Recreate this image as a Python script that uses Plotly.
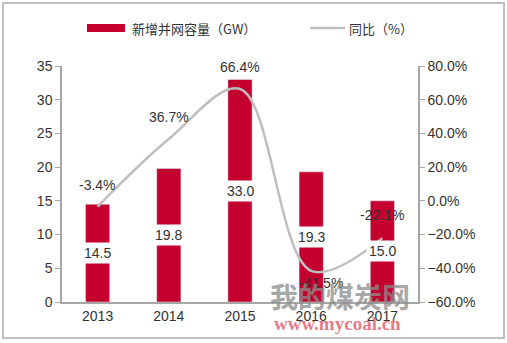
import plotly.graph_objects as go

years = ["2013", "2014", "2015", "2016", "2017"]
capacity_gw = [14.5, 19.8, 33.0, 19.3, 15.0]
yoy_pct = [-3.4, 36.7, 66.4, -41.5, -22.1]
bar_name = "新增并网容量（GW）"
line_name = "同比（%）"

BAR = "#C4002F"
LINE = "#BFBFBF"
AXIS = "#A6A6A6"
TXT = "#333333"

W, H = 507, 343
L, R, T, B = 62, 89, 66, 41
PW, PH = W - L - R, H - T - B


def px(x):
    return (x - L) / PW


def py(y):
    return (H - B - y) / PH


idx = list(range(len(years)))

fig = go.Figure()
fig.add_trace(go.Bar(x=idx, y=capacity_gw, marker_color=BAR, width=0.34,
                     name=bar_name, showlegend=False, hoverinfo="skip"))
fig.add_trace(go.Scatter(x=idx, y=yoy_pct, yaxis="y2", mode="lines",
                         line=dict(color=LINE, width=2.5, shape="spline", smoothing=1.0),
                         name=line_name, showlegend=False, hoverinfo="skip"))

ann = []
# bar value labels, centred in each bar on a white box
for i, v in zip(idx, capacity_gw):
    ann.append(dict(x=i, y=v / 2, xref="x", yref="y", text=f"{v:.1f}", showarrow=False,
                    bgcolor="white", borderpad=2, yanchor="middle",
                    font=dict(family="Liberation Sans, Arial", size=14, color=TXT)))
# growth-rate labels
shifts = [(0, 22), (0, 22), (0, 22), (10, -12), (0, 23)]
for i, v, (dx, dy) in zip(idx, yoy_pct, shifts):
    ann.append(dict(x=i, y=v, xref="x", yref="y2", text=f"{v:.1f}%", showarrow=False,
                    xshift=dx, yshift=dy, yanchor="middle",
                    font=dict(family="Liberation Sans, Arial", size=14, color=TXT)))

# custom legend
ann.append(dict(x=px(130), y=py(28), xref="paper", yref="paper", xanchor="left",
                yanchor="middle", text=bar_name, showarrow=False,
                font=dict(family="Noto Sans CJK SC", size=13, color=TXT)))
ann.append(dict(x=px(347), y=py(28), xref="paper", yref="paper", xanchor="left",
                yanchor="middle", text=line_name, showarrow=False,
                font=dict(family="Noto Sans CJK SC", size=13, color=TXT)))

# site watermark
ann.append(dict(x=px(412), y=py(296), xref="paper", yref="paper", text="<b>我的煤炭网</b>",
                showarrow=False, opacity=0.75, yanchor="middle",
                font=dict(family="Noto Sans CJK SC", size=28, color="#8C8C8C")))
ann.append(dict(x=px(403), y=py(323), xref="paper", yref="paper", text="<b>www.mycoal.cn</b>",
                showarrow=False, opacity=0.75, yanchor="middle",
                font=dict(family="Liberation Serif, DejaVu Serif", size=19, color="#E0505F")))

shapes = [
    dict(type="rect", xref="paper", yref="paper", x0=px(87), x1=px(125), y0=py(32), y1=py(24),
         fillcolor=BAR, line=dict(width=0)),
    dict(type="line", xref="paper", yref="paper", x0=px(310), x1=px(345), y0=py(28), y1=py(28),
         line=dict(color=LINE, width=2.5)),
    dict(type="rect", xref="paper", yref="paper", x0=px(3), x1=px(504), y0=py(338), y1=py(3),
         line=dict(color="#BFBFBF", width=2), layer="below"),
]

tickfont = dict(family="Liberation Sans, Arial", size=14, color=TXT)
fig.update_layout(
    width=W, height=H, margin=dict(l=L, r=R, t=T, b=B),
    paper_bgcolor="white", plot_bgcolor="white",
    xaxis=dict(range=[-0.5, 4.5], tickvals=idx, ticktext=years, showline=True,
               linecolor=AXIS, linewidth=1.5, ticks="", tickfont=tickfont,
               showgrid=False, zeroline=False),
    yaxis=dict(range=[0, 35], dtick=5, showline=True, linecolor=AXIS, linewidth=1.5,
               ticks="outside", ticklen=5, tickcolor=AXIS, tickfont=tickfont,
               showgrid=False, zeroline=False),
    yaxis2=dict(range=[-60, 80], dtick=20, overlaying="y", side="right",
                showline=True, linecolor=AXIS, linewidth=1.5,
                ticks="outside", ticklen=5, tickcolor=AXIS, tickfont=tickfont,
                tickformat=".1f", ticksuffix="%", showgrid=False, zeroline=False),
    annotations=ann, shapes=shapes,
)

fig.write_html("out.html")
